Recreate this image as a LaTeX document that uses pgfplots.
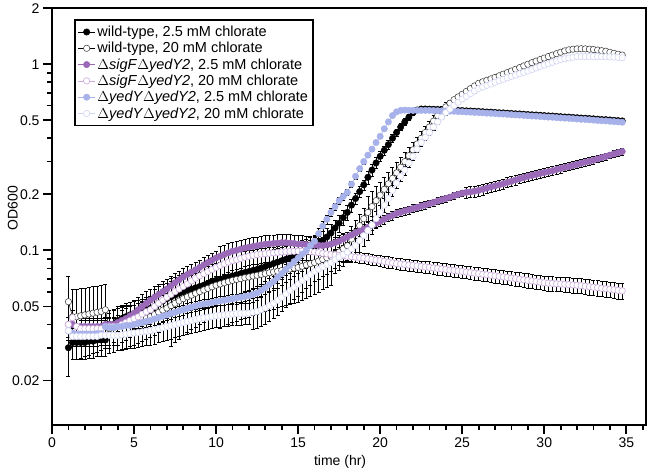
\documentclass[border=0pt]{standalone}
\usepackage{pgfplots}
\usepackage{pgfplotstable}
\pgfplotsset{compat=1.18}
\usepackage{fontspec}
\setmainfont{Liberation Sans}
\definecolor{sigpurple}{HTML}{9A6AB8}
\definecolor{sigpale}{HTML}{CBA9DC}
\definecolor{yedblue}{HTML}{A8B2EA}
\definecolor{yedpale}{HTML}{D2D6F4}
\pgfplotstableread{
t W1 eW1 W2 eW2 S1 eS1 S2 eS2 Y1 eY1 Y2 eY2
1.00 0.030 0.009 0.053 0.020 0.040 0.004 0.040 0.004 0.037 0.003 0.037 0.004
1.25 0.032 0.006 0.044 0.018 0.040 0.004 0.0435 0.004 0.036 0.003 0.0345 0.004
1.50 0.032 0.006 0.044 0.018 0.039 0.004 0.039 0.004 0.0355 0.003 0.0345 0.004
1.75 0.032 0.006 0.0445 0.018 0.039 0.004 0.038 0.004 0.0355 0.003 0.0345 0.004
2.00 0.032 0.006 0.045 0.018 0.039 0.004 0.038 0.004 0.0355 0.003 0.0345 0.004
2.25 0.0325 0.006 0.0455 0.018 0.039 0.004 0.038 0.004 0.0355 0.003 0.0345 0.004
2.50 0.0325 0.006 0.046 0.018 0.039 0.004 0.038 0.004 0.0355 0.003 0.0345 0.004
2.75 0.033 0.006 0.0465 0.018 0.039 0.004 0.038 0.004 0.0357 0.003 0.0345 0.004
3.00 0.033 0.006 0.047 0.018 0.039 0.004 0.038 0.004 0.0357 0.003 0.035 0.004
3.25 0.033 0.006 0.048 0.018 0.040 0.004 0.039 0.004 0.039 0.003 0.035 0.004
3.50 0.038 0.008 0.038 0.010 0.040 0.004 0.039 0.004 0.0385 0.003 0.035 0.004
3.75 0.040 0.008 0.0385 0.010 0.040 0.004 0.039 0.004 0.0385 0.003 0.035 0.004
4.00 0.042 0.008 0.039 0.010 0.041 0.004 0.039 0.004 0.039 0.003 0.035 0.004
4.25 0.043 0.008 0.0395 0.010 0.042 0.008 0.040 0.008 0.039 0.003 0.0352 0.006
4.50 0.044 0.008 0.040 0.010 0.043 0.008 0.041 0.008 0.0395 0.003 0.0355 0.006
4.75 0.045 0.008 0.0405 0.010 0.0445 0.008 0.042 0.008 0.0395 0.003 0.0358 0.006
5.00 0.0455 0.008 0.041 0.010 0.046 0.008 0.043 0.008 0.040 0.003 0.036 0.006
5.25 0.046 0.008 0.0418 0.010 0.048 0.008 0.044 0.008 0.0405 0.003 0.0363 0.006
5.50 0.047 0.008 0.0425 0.010 0.050 0.008 0.0455 0.008 0.041 0.003 0.0365 0.006
5.75 0.048 0.008 0.0433 0.010 0.052 0.008 0.0468 0.008 0.0415 0.003 0.0368 0.006
6.00 0.049 0.008 0.044 0.010 0.054 0.008 0.048 0.008 0.042 0.003 0.037 0.006
6.25 0.050 0.012 0.0452 0.010 0.056 0.008 0.050 0.008 0.0428 0.003 0.0375 0.006
6.50 0.052 0.012 0.0465 0.010 0.058 0.008 0.052 0.008 0.0435 0.003 0.038 0.006
6.75 0.0535 0.012 0.0478 0.010 0.060 0.008 0.054 0.008 0.0443 0.003 0.0385 0.006
7.00 0.055 0.012 0.049 0.010 0.062 0.008 0.056 0.008 0.045 0.003 0.039 0.006
7.25 0.0562 0.012 0.0505 0.020 0.0645 0.008 0.058 0.008 0.0458 0.003 0.0395 0.006
7.50 0.0575 0.012 0.052 0.020 0.067 0.008 0.060 0.008 0.0465 0.003 0.040 0.006
7.75 0.0588 0.012 0.0535 0.020 0.0695 0.008 0.062 0.008 0.0473 0.003 0.0405 0.006
8.00 0.060 0.012 0.055 0.020 0.072 0.008 0.064 0.008 0.048 0.003 0.041 0.006
8.25 0.061 0.012 0.0563 0.020 0.0742 0.008 0.066 0.008 0.0488 0.003 0.0415 0.006
8.50 0.062 0.012 0.0575 0.020 0.0765 0.008 0.0685 0.008 0.0495 0.003 0.042 0.006
8.75 0.063 0.012 0.0588 0.020 0.0787 0.008 0.0708 0.008 0.0503 0.003 0.0425 0.006
9.00 0.064 0.012 0.060 0.020 0.081 0.008 0.073 0.008 0.051 0.003 0.043 0.006
9.25 0.065 0.016 0.0613 0.020 0.0835 0.008 0.075 0.008 0.0515 0.003 0.0434 0.006
9.50 0.0665 0.016 0.0625 0.020 0.086 0.008 0.077 0.008 0.052 0.003 0.0438 0.006
9.75 0.068 0.016 0.0638 0.020 0.0885 0.008 0.079 0.008 0.0525 0.003 0.0442 0.006
10.00 0.069 0.016 0.065 0.020 0.091 0.008 0.081 0.008 0.053 0.003 0.0445 0.006
10.25 0.070 0.016 0.066 0.028 0.093 0.012 0.083 0.010 0.0535 0.003 0.0448 0.006
10.50 0.071 0.016 0.067 0.028 0.095 0.012 0.0848 0.010 0.054 0.003 0.045 0.006
10.75 0.072 0.016 0.068 0.028 0.097 0.012 0.0865 0.010 0.0545 0.003 0.0453 0.006
11.00 0.073 0.016 0.069 0.028 0.099 0.012 0.088 0.010 0.055 0.003 0.0455 0.006
11.25 0.074 0.016 0.0698 0.028 0.100 0.012 0.089 0.010 0.0555 0.003 0.0457 0.006
11.50 0.075 0.016 0.0705 0.028 0.1015 0.012 0.0905 0.010 0.056 0.003 0.0458 0.006
11.75 0.076 0.016 0.0713 0.028 0.103 0.012 0.092 0.010 0.0565 0.003 0.0459 0.006
12.00 0.077 0.016 0.072 0.028 0.104 0.012 0.093 0.010 0.057 0.003 0.046 0.006
12.25 0.078 0.016 0.0728 0.028 0.105 0.012 0.094 0.010 0.058 0.005 0.0465 0.009
12.50 0.079 0.016 0.0735 0.028 0.106 0.012 0.0948 0.010 0.059 0.005 0.047 0.009
12.75 0.0805 0.016 0.0743 0.028 0.107 0.012 0.0955 0.010 0.061 0.005 0.048 0.009
13.00 0.082 0.016 0.075 0.028 0.108 0.012 0.096 0.010 0.063 0.005 0.049 0.009
13.25 0.0835 0.016 0.0758 0.028 0.1085 0.012 0.0965 0.010 0.0655 0.005 0.0505 0.009
13.50 0.085 0.016 0.0765 0.028 0.109 0.012 0.097 0.010 0.068 0.005 0.052 0.009
13.75 0.0865 0.016 0.0773 0.028 0.1095 0.012 0.0975 0.010 0.0715 0.005 0.054 0.009
14.00 0.088 0.016 0.078 0.028 0.110 0.012 0.098 0.010 0.075 0.005 0.056 0.009
14.25 0.0895 0.016 0.0788 0.028 0.110 0.012 0.0983 0.010 0.079 0.005 0.0585 0.009
14.50 0.091 0.016 0.0795 0.028 0.1095 0.012 0.0986 0.010 0.083 0.005 0.061 0.009
14.75 0.093 0.016 0.0803 0.028 0.109 0.012 0.0988 0.010 0.087 0.005 0.0635 0.009
15.00 0.095 0.016 0.081 0.028 0.108 0.012 0.099 0.010 0.091 0.005 0.066 0.009
15.25 0.097 0.016 0.0822 0.028 0.108 0.012 0.099 0.010 0.0955 0.005 0.0688 0.009
15.50 0.0995 0.016 0.0835 0.028 0.1075 0.012 0.0988 0.010 0.100 0.005 0.0715 0.009
15.75 0.102 0.016 0.0848 0.028 0.107 0.012 0.0985 0.010 0.106 0.005 0.0743 0.009
16.00 0.105 0.016 0.086 0.028 0.107 0.012 0.098 0.010 0.112 0.005 0.077 0.009
16.25 0.109 0.014 0.0877 0.028 0.1065 0.012 0.0973 0.010 0.123 0.008 0.0793 0.009
16.50 0.113 0.014 0.0895 0.028 0.106 0.012 0.0965 0.010 0.135 0.008 0.0815 0.009
16.75 0.118 0.014 0.0913 0.028 0.107 0.012 0.0958 0.010 0.147 0.008 0.0838 0.009
17.00 0.124 0.014 0.093 0.028 0.108 0.012 0.095 0.010 0.160 0.008 0.086 0.009
17.25 0.132 0.014 0.0955 0.020 0.110 0.008 0.0945 0.006 0.172 0.008 0.089 0.009
17.50 0.140 0.014 0.098 0.020 0.112 0.008 0.094 0.006 0.185 0.008 0.092 0.009
17.75 0.150 0.014 0.102 0.020 0.115 0.008 0.0935 0.006 0.195 0.008 0.095 0.009
18.00 0.160 0.014 0.106 0.020 0.118 0.008 0.093 0.006 0.205 0.008 0.098 0.009
18.25 0.175 0.014 0.115 0.020 0.121 0.008 0.0925 0.006 0.227 0.008 0.102 0.015
18.50 0.190 0.014 0.125 0.020 0.124 0.008 0.092 0.006 0.250 0.008 0.106 0.015
18.75 0.207 0.014 0.136 0.020 0.127 0.008 0.0915 0.006 0.275 0.008 0.113 0.015
19.00 0.225 0.014 0.148 0.020 0.130 0.008 0.091 0.006 0.300 0.008 0.120 0.015
19.25 0.247 0.020 0.160 0.035 0.133 0.008 0.0902 0.006 0.325 0.008 0.128 0.015
19.50 0.270 0.020 0.172 0.035 0.1365 0.008 0.0895 0.006 0.350 0.008 0.137 0.015
19.75 0.295 0.020 0.185 0.035 0.140 0.008 0.0888 0.006 0.380 0.008 0.148 0.015
20.00 0.320 0.020 0.198 0.035 0.143 0.008 0.088 0.006 0.410 0.008 0.160 0.015
20.25 0.345 0.020 0.213 0.035 0.147 0.008 0.0872 0.006 0.450 0.008 0.175 0.015
20.50 0.370 0.020 0.228 0.035 0.151 0.008 0.0865 0.006 0.490 0.008 0.190 0.015
20.75 0.400 0.020 0.244 0.035 0.154 0.008 0.0858 0.006 0.530 0.008 0.210 0.015
21.00 0.430 0.020 0.261 0.035 0.158 0.008 0.085 0.006 0.555 0.008 0.230 0.015
21.25 0.460 0.020 0.280 0.035 0.160 0.008 0.0845 0.006 0.565 0.004 0.250 0.015
21.50 0.490 0.020 0.300 0.035 0.163 0.008 0.084 0.006 0.567 0.004 0.270 0.015
21.75 0.520 0.020 0.323 0.035 0.165 0.008 0.0835 0.006 0.566 0.004 0.295 0.015
22.00 0.550 0.020 0.347 0.035 0.168 0.008 0.083 0.006 0.565 0.004 0.320 0.015
22.25 0.568 0.005 0.373 0.035 0.170 0.008 0.0825 0.006 0.565 0.004 0.350 0.015
22.50 0.575 0.005 0.400 0.035 0.173 0.008 0.082 0.006 0.565 0.004 0.380 0.015
22.75 0.575 0.005 0.430 0.035 0.175 0.008 0.0815 0.006 0.565 0.004 0.405 0.015
23.00 0.574 0.005 0.460 0.035 0.178 0.008 0.081 0.006 0.565 0.004 0.430 0.015
23.25 0.573 0.005 0.495 0.035 0.181 0.008 0.0805 0.006 0.564 0.004 0.460 0.015
23.50 0.572 0.005 0.530 0.035 0.184 0.008 0.080 0.006 0.563 0.004 0.490 0.015
23.75 0.571 0.005 0.560 0.035 0.187 0.008 0.0795 0.006 0.562 0.004 0.520 0.015
24.00 0.570 0.005 0.590 0.035 0.190 0.008 0.079 0.006 0.561 0.004 0.550 0.015
24.25 0.568 0.005 0.618 0.020 0.193 0.008 0.0785 0.006 0.560 0.004 0.575 0.015
24.50 0.567 0.005 0.645 0.020 0.197 0.008 0.078 0.006 0.559 0.004 0.600 0.015
24.75 0.565 0.005 0.668 0.020 0.200 0.008 0.0775 0.006 0.557 0.004 0.625 0.015
25.00 0.564 0.005 0.690 0.020 0.203 0.008 0.077 0.006 0.556 0.004 0.650 0.015
25.25 0.562 0.005 0.715 0.020 0.205 0.014 0.0765 0.006 0.554 0.004 0.672 0.015
25.50 0.561 0.005 0.740 0.020 0.206 0.014 0.076 0.006 0.553 0.004 0.695 0.015
25.75 0.559 0.005 0.765 0.020 0.208 0.014 0.0755 0.006 0.551 0.004 0.718 0.015
26.00 0.558 0.005 0.790 0.020 0.210 0.014 0.075 0.006 0.550 0.004 0.740 0.015
26.25 0.556 0.005 0.805 0.020 0.213 0.014 0.0745 0.006 0.548 0.004 0.755 0.015
26.50 0.554 0.005 0.820 0.020 0.216 0.014 0.074 0.006 0.546 0.004 0.770 0.015
26.75 0.553 0.005 0.835 0.020 0.219 0.014 0.0735 0.006 0.545 0.004 0.785 0.015
27.00 0.551 0.005 0.850 0.020 0.222 0.014 0.073 0.006 0.543 0.004 0.800 0.015
27.25 0.549 0.005 0.867 0.020 0.225 0.014 0.0725 0.006 0.541 0.004 0.815 0.015
27.50 0.548 0.005 0.885 0.020 0.228 0.014 0.072 0.006 0.540 0.004 0.830 0.015
27.75 0.546 0.005 0.902 0.020 0.232 0.014 0.0715 0.006 0.538 0.004 0.845 0.015
28.00 0.544 0.005 0.920 0.020 0.235 0.014 0.071 0.006 0.536 0.004 0.860 0.015
28.25 0.542 0.005 0.940 0.020 0.239 0.014 0.0705 0.006 0.534 0.004 0.875 0.015
28.50 0.541 0.005 0.960 0.020 0.243 0.014 0.070 0.006 0.533 0.004 0.890 0.015
28.75 0.539 0.005 0.980 0.020 0.246 0.014 0.0695 0.006 0.531 0.004 0.905 0.015
29.00 0.537 0.005 1.000 0.020 0.250 0.014 0.069 0.006 0.529 0.004 0.920 0.015
29.25 0.535 0.005 1.020 0.020 0.253 0.014 0.0685 0.006 0.527 0.004 0.937 0.015
29.50 0.534 0.005 1.040 0.020 0.256 0.014 0.068 0.006 0.526 0.004 0.955 0.015
29.75 0.532 0.005 1.060 0.020 0.259 0.014 0.0675 0.006 0.524 0.004 0.972 0.015
30.00 0.530 0.005 1.080 0.020 0.262 0.014 0.067 0.006 0.522 0.004 0.990 0.015
30.25 0.528 0.005 1.100 0.020 0.265 0.014 0.0667 0.006 0.520 0.004 1.007 0.015
30.50 0.527 0.005 1.120 0.020 0.268 0.014 0.0665 0.006 0.519 0.004 1.025 0.015
30.75 0.525 0.005 1.140 0.020 0.272 0.014 0.0662 0.006 0.517 0.004 1.042 0.015
31.00 0.523 0.005 1.160 0.020 0.275 0.014 0.066 0.006 0.515 0.004 1.060 0.015
31.25 0.521 0.005 1.180 0.020 0.279 0.014 0.0657 0.006 0.513 0.004 1.070 0.015
31.50 0.520 0.005 1.195 0.020 0.282 0.014 0.0655 0.006 0.512 0.004 1.080 0.015
31.75 0.518 0.005 1.205 0.020 0.286 0.014 0.0652 0.006 0.510 0.004 1.090 0.015
32.00 0.516 0.005 1.210 0.020 0.290 0.014 0.065 0.006 0.508 0.004 1.100 0.015
32.25 0.514 0.005 1.212 0.020 0.294 0.014 0.0646 0.006 0.506 0.004 1.100 0.015
32.50 0.513 0.005 1.210 0.020 0.298 0.014 0.0642 0.006 0.505 0.004 1.100 0.015
32.75 0.511 0.005 1.205 0.020 0.301 0.014 0.0638 0.006 0.503 0.004 1.100 0.015
33.00 0.509 0.005 1.200 0.020 0.305 0.014 0.0634 0.006 0.501 0.004 1.100 0.015
33.25 0.507 0.005 1.192 0.020 0.310 0.014 0.063 0.006 0.499 0.004 1.099 0.015
33.50 0.505 0.005 1.183 0.020 0.315 0.014 0.0626 0.006 0.497 0.004 1.098 0.015
33.75 0.504 0.005 1.175 0.020 0.320 0.014 0.0622 0.006 0.496 0.004 1.097 0.015
34.00 0.502 0.005 1.160 0.020 0.325 0.014 0.0618 0.006 0.494 0.004 1.095 0.015
34.25 0.500 0.005 1.145 0.020 0.330 0.014 0.0614 0.006 0.492 0.004 1.092 0.015
34.50 0.498 0.005 1.132 0.020 0.335 0.014 0.061 0.006 0.490 0.004 1.089 0.015
34.75 0.496 0.005 1.120 0.020 0.340 0.014 0.0606 0.006 0.488 0.004 1.085 0.015
}\data
\pgfplotsset{
  eb/.style={error bars/.cd, y dir=both, y explicit,
    error bar style={black, line width=0.4pt},
    error mark options={black, line width=0.4pt, mark size=2pt, rotate=90}},
}
\begin{document}
\begin{tikzpicture}
\begin{axis}[
  name=ax,
  scale only axis, width=594pt, height=417pt,
  xmin=0, xmax=36.2, ymin=0.0115, ymax=2, ymode=log,
  axis line style={line width=2pt},
  xtick={0,5,...,35}, minor xtick={1,...,36},
  ytick={0.02,0.05,0.1,0.2,0.5,1,2},
  yticklabels={0.02,0.05,0.1,0.2,0.5,1,2},
  minor ytick={0.03,0.04,0.06,0.07,0.08,0.09,0.3,0.4,0.6,0.7,0.8,0.9},
  tick align=outside, xtick pos=left, ytick pos=left,
  major tick length=9pt, minor tick length=5pt,
  every tick/.style={black, line width=1.8pt},
  /pgf/number format/assume math mode=true,
  tick label style={font=\fontsize{14}{16}\selectfont},
  xlabel={time (hr)}, ylabel={OD600},
  label style={font=\fontsize{14}{16}\selectfont},
  xlabel style={at={(axis description cs:0.485,-0.089)}, anchor=center},
  ylabel style={at={(axis description cs:-0.066,0.52)}, anchor=center, rotate=0},
  legend style={at={(axis description cs:0.037,0.974)}, anchor=north west,
    draw=black, line width=1.8pt, font=\fontsize{14.5}{16}\selectfont,
    inner xsep=3pt, inner ysep=4pt, row sep=0.3pt},
  legend cell align=left,
]
\addplot[black, line width=0.5pt, mark=*, mark size=3.2pt, mark options={fill=black, draw=black, line width=0.5pt}, eb] table[x=t, y=W1, y error=eW1]{\data};
\addlegendentry{wild-type, 2.5 mM chlorate}
\addplot[black, line width=0.5pt, mark=*, mark size=3.2pt, mark options={fill=white, draw=black!80, line width=0.5pt}, eb] table[x=t, y=W2, y error=eW2]{\data};
\addlegendentry{wild-type, 20 mM chlorate}
\addplot[sigpurple, line width=0.5pt, mark=*, mark size=3.2pt, mark options={fill=sigpurple, draw=sigpurple, line width=0.5pt}, eb] table[x=t, y=S1, y error=eS1]{\data};
\addlegendentry{$\Delta$\textit{sigF}$\Delta$\textit{yedY2}, 2.5 mM chlorate}
\addplot[sigpale, line width=0.5pt, mark=*, mark size=3.2pt, mark options={fill=white, draw=sigpale, line width=0.6pt}, eb] table[x=t, y=S2, y error=eS2]{\data};
\addlegendentry{$\Delta$\textit{sigF}$\Delta$\textit{yedY2}, 20 mM chlorate}
\addplot[yedblue, line width=0.5pt, mark=*, mark size=3.2pt, mark options={fill=yedblue, draw=yedblue, line width=0.5pt}, eb] table[x=t, y=Y1, y error=eY1]{\data};
\addlegendentry{$\Delta$\textit{yedY}$\Delta$\textit{yedY2}, 2.5 mM chlorate}
\addplot[yedpale, line width=0.5pt, mark=*, mark size=3.2pt, mark options={fill=white, draw=yedpale, line width=0.6pt}, eb] table[x=t, y=Y2, y error=eY2]{\data};
\addlegendentry{$\Delta$\textit{yedY}$\Delta$\textit{yedY2}, 20 mM chlorate}
\end{axis}
\path ([shift={(-52pt,-45pt)}]ax.south west) rectangle ([shift={(4pt,8pt)}]ax.north east);
\end{tikzpicture}
\end{document}
